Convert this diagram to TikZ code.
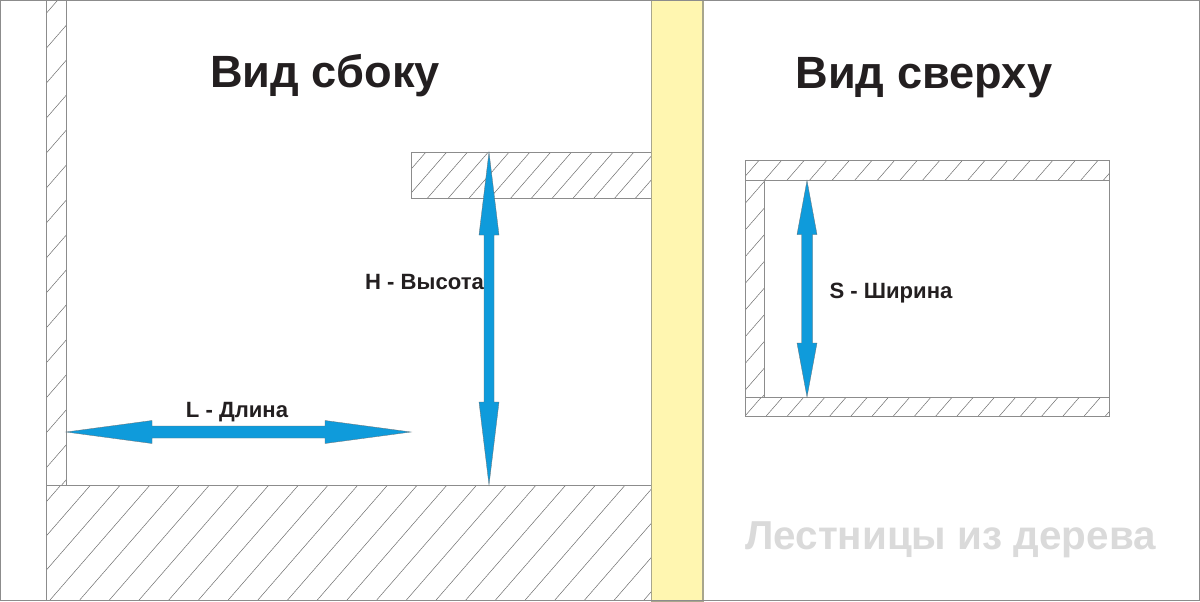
\documentclass[tikz,border=0pt]{standalone}
\usepackage{fontspec}
\setmainfont{Liberation Sans}
\definecolor{wallline}{HTML}{8C8C8C}
\definecolor{hatchline}{HTML}{6E6E6E}
\definecolor{beamfill}{HTML}{FFF6B0}
\definecolor{beamline}{HTML}{A8A68C}
\definecolor{arrowblue}{HTML}{0F9BDB}
\definecolor{inktext}{HTML}{231F20}
\definecolor{marktext}{HTML}{DADADA}
\tikzset{
  wall/.style={draw=wallline,line width=0.45pt},
  hatch/.style={draw=hatchline,line width=0.25pt},
  dimarrow/.style={fill=arrowblue,draw=hatchline,line width=0.15pt},
  title/.style={font=\bfseries\fontsize{22.6}{28}\selectfont,text=inktext,inner sep=0pt},
  dimlabel/.style={font=\bfseries\fontsize{11.05}{13}\selectfont,text=inktext,inner sep=0pt},
}
% hatch: x0,y0,x1,y1,shift along x,phase
\newcommand{\hatchbox}[6]{
  \begin{scope}
    \clip (#1,#2) rectangle (#3,#4);
    \foreach \i in {-60,...,60}
      \draw[hatch] ({#1+#6+\i*#5},#4) -- ++(600,-690);
  \end{scope}
  \draw[wall] (#1,#2) rectangle (#3,#4);
}
\begin{document}
\begin{tikzpicture}[x=0.5pt,y=-0.5pt]
  \useasboundingbox (0,0) rectangle (1200,601);
  \fill[white] (0,0) rectangle (1200,601);
  % side view
  \hatchbox{46.5}{0}{66}{485}{30.4}{-15.2}
  \hatchbox{46.5}{485}{651}{600}{29.7}{3.5}
  \hatchbox{411}{152}{651}{198}{20.8}{-4.2}
  % beam
  \draw[draw=beamline,fill=beamfill,line width=0.55pt] (651.5,-1) rectangle (703,602);
  % top view
  \hatchbox{745}{160}{1109}{180.5}{22.6}{-3.5}
  \hatchbox{745}{397}{1109}{416}{21.2}{0}
  \hatchbox{745}{180.5}{764}{397}{23.2}{-5.8}
  \draw[wall] (764,180.5) rectangle (1109,397);
  % frame
  \draw[draw=wallline,line width=0.8pt] (0.5,0.5) rectangle (1199.5,600.5);
  % arrows
  \draw[dimarrow] (66,432) -- (152,420.5) -- (152,426) -- (325,426) -- (325,420.5) -- (411,432)
    -- (325,443.5) -- (325,438) -- (152,438) -- (152,443.5) -- cycle;
  \draw[dimarrow] (489,152) -- (499,235) -- (494,235) -- (494,402) -- (499,402) -- (489,485)
    -- (479,402) -- (484,402) -- (484,235) -- (479,235) -- cycle;
  \draw[dimarrow] (807,180.5) -- (817,234.5) -- (812.5,234.5) -- (812.5,343) -- (817,343) -- (807,397)
    -- (797,343) -- (801.5,343) -- (801.5,234.5) -- (797,234.5) -- cycle;
  % texts
  \node[title] (sidetitle) at (325,76) {Вид сбоку};
  \node[title] (toptitle) at (924,78) {Вид сверху};
  \node[dimlabel] (lengthlabel) at (237,412) {L - Длина};
  \node[dimlabel] (heightlabel) at (424.5,282) {H - Высота};
  \node[dimlabel] (widthlabel) at (891,293) {S - Ширина};
  \node[font=\bfseries\fontsize{20.2}{24}\selectfont,text=marktext,inner sep=0pt] (watermark) at (950.5,540) {Лестницы из дерева};
\end{tikzpicture}
\end{document}
